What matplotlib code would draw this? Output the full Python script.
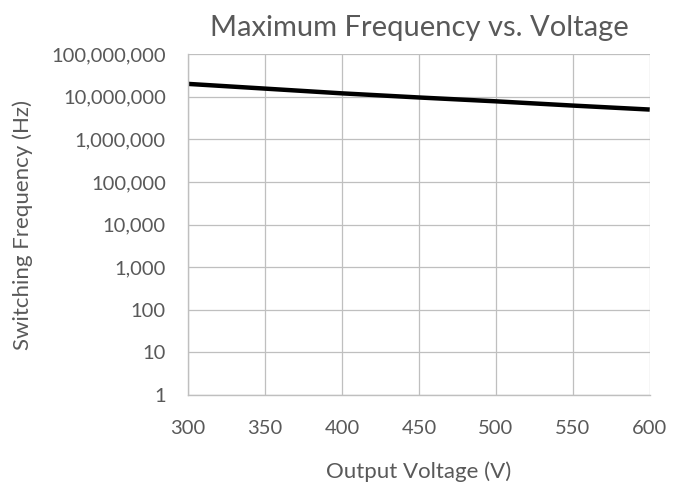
import numpy as np
import matplotlib.pyplot as plt
from matplotlib.ticker import FixedLocator, FuncFormatter

# Data
voltage = [300, 350, 400, 450, 500, 550, 600]
frequency = [2.0e7, 1.55e7, 1.2e7, 9.6e6, 7.8e6, 6.2e6, 5.0e6]

x_ticks = [300, 350, 400, 450, 500, 550, 600]
y_ticks = [1, 10, 100, 1e3, 1e4, 1e5, 1e6, 1e7, 1e8]

text_col = "#595959"
grid_col = "#BFBFBF"

plt.rcParams["font.family"] = ["Lato", "DejaVu Sans"]

fig = plt.figure(figsize=(6.89, 4.83), dpi=100)
ax = fig.add_axes([0.273, 0.182, 0.670, 0.706])

ax.plot(voltage, frequency, color="black", lw=3.2, solid_capstyle="butt")

ax.set_yscale("log")
ax.set_xlim(300, 600)
ax.set_ylim(1, 1e8)
ax.xaxis.set_major_locator(FixedLocator(x_ticks))
ax.yaxis.set_major_locator(FixedLocator(y_ticks))
ax.yaxis.set_minor_locator(FixedLocator([]))
ax.yaxis.set_major_formatter(FuncFormatter(lambda v, p: f"{int(round(v)):,}"))

ax.grid(True, color=grid_col, lw=0.9)
ax.set_axisbelow(True)
for s in ["top", "right"]:
    ax.spines[s].set_visible(False)
for s in ["left", "bottom"]:
    ax.spines[s].set_color(grid_col)
    ax.spines[s].set_linewidth(1.0)

ax.tick_params(length=0, labelsize=14.5, colors=text_col)
ax.tick_params(axis="y", pad=16)
ax.tick_params(axis="x", pad=18)

ax.set_xlabel("Output Voltage (V)", fontsize=16, color=text_col)
ax.set_ylabel("Switching Frequency (Hz)", fontsize=16, color=text_col)
ax.xaxis.set_label_coords(0.5, -0.195)
ax.yaxis.set_label_coords(-0.335, 0.5)
ax.set_title("Maximum Frequency vs. Voltage", fontsize=21, color=text_col, pad=13)

fig.savefig("out.png", dpi=100)
